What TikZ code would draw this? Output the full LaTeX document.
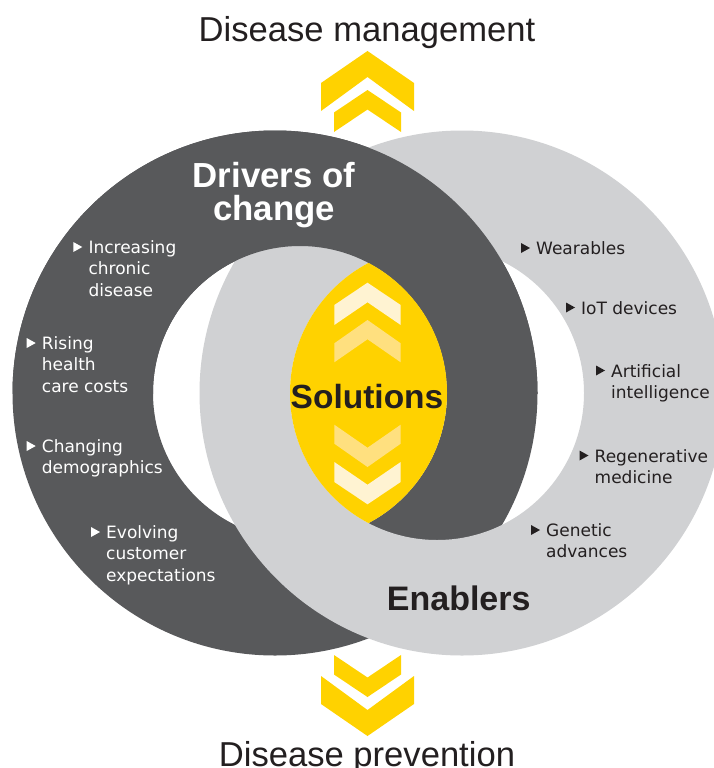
\documentclass[tikz,border=0pt]{standalone}
\usepackage{fontspec}
\setmainfont{Liberation Sans}
\newfontfamily\labelfont{DejaVu Sans}

\definecolor{ringdark}{HTML}{58595B}
\definecolor{ringlight}{HTML}{D0D1D3}
\definecolor{eyyellow}{HTML}{FFD200}
\definecolor{chevpale}{HTML}{FFF3D2}
\definecolor{chevmid}{HTML}{FFE07F}
\definecolor{inkdark}{HTML}{231F20}

% stacked lines whose baseline is the first line
\newcommand\itemlines[1]{\begin{tabular}[t]{@{}l@{}}#1\end{tabular}}
% small pointer triangle in front of a list label
\newcommand\markitem[2]{\fill[#1] ([shift={(-15,-1.5)}]#2.base west) -- ++(0,-10) -- ++(9,5) -- cycle;}

\begin{document}
\begin{tikzpicture}[x=1pt,y=-1pt,
  lbl/.style={inner sep=0pt, anchor=base west, font=\labelfont\fontsize{17}{21.3}\selectfont},
  lblwhite/.style={lbl, text=white},
  lbldark/.style={lbl, text=inkdark},
  heading/.style={inner sep=0pt, anchor=base, font=\bfseries\fontsize{34}{29}\selectfont},
  axislabel/.style={inner sep=0pt, anchor=base, text=inkdark, font=\fontsize{34.6}{40}\selectfont}]

\useasboundingbox (0,0) rectangle (714,768);
\fill[white] (0,0) rectangle (714,768);

% outer chevrons
\fill[eyyellow] (367.5,51) -- (414,83) -- (414,111) -- (367.5,77) -- (321,111) -- (321,83) -- cycle;
\fill[eyyellow] (367.5,90) -- (401,112.5) -- (401,132) -- (367.5,109.5) -- (334,132) -- (334,112.5) -- cycle;
\fill[eyyellow] (367.5,736) -- (414,704) -- (414,676) -- (367.5,710) -- (321,676) -- (321,704) -- cycle;
\fill[eyyellow] (367.5,697) -- (401,674.5) -- (401,655) -- (367.5,677.5) -- (334,655) -- (334,674.5) -- cycle;

% interlocking rings
\fill[ringdark, even odd rule] (275,393) circle[radius=262.5pt] (300,393) circle[radius=147pt];
\fill[ringlight, even odd rule] (462,393) circle[radius=262.5pt] (437,393) circle[radius=147pt];
\begin{scope}
  \clip (0,0) rectangle (714,393);
  \fill[ringdark, even odd rule] (275,393) circle[radius=262.5pt] (300,393) circle[radius=147pt];
\end{scope}

% central lens where both openings meet
\begin{scope}
  \clip (300,393) circle[radius=147pt];
  \fill[eyyellow] (437,393) circle[radius=147pt];
\end{scope}

% chevrons inside the lens
\fill[chevpale] (367.5,282.7) -- (400.7,305) -- (400.7,325) -- (367.5,302.3) -- (334.3,325) -- (334.3,305) -- cycle;
\fill[chevmid] (367.5,320) -- (400.7,343.3) -- (400.7,362.3) -- (367.5,339.3) -- (334.3,362.3) -- (334.3,343.3) -- cycle;
\fill[chevmid] (367.5,467) -- (400.7,443.7) -- (400.7,424.7) -- (367.5,447.7) -- (334.3,424.7) -- (334.3,443.7) -- cycle;
\fill[chevpale] (367.5,504.3) -- (400.7,482) -- (400.7,462) -- (367.5,484.7) -- (334.3,462) -- (334.3,482) -- cycle;

% titles
\node[axislabel] (mgmt) at (367,41.5) {Disease management};
\node[axislabel] (prev) at (367,766) {Disease prevention};
\node[heading, text=white, font=\bfseries\fontsize{34.8}{29}\selectfont] (drivers) at (274,187)
  {\begin{tabular}[t]{@{}c@{}}Drivers of\\change\end{tabular}};
\node[heading, text=inkdark, font=\bfseries\fontsize{33.5}{29}\selectfont] (solutions) at (367,408) {Solutions};
\node[heading, text=inkdark] (enablers) at (458.7,610) {Enablers};

% drivers of change
\node[lblwhite] (inc) at (88.3,253.5) {\itemlines{Increasing\\chronic\\disease}};
\node[lblwhite] (rise) at (41.7,349.5) {\itemlines{Rising\\health\\care costs}};
\node[lblwhite] (chg) at (41.7,452.5) {\itemlines{Changing\\demographics}};
\node[lblwhite] (evo) at (106,538.5) {\itemlines{Evolving\\customer\\expectations}};
\markitem{white}{inc}
\markitem{white}{rise}
\markitem{white}{chg}
\markitem{white}{evo}

% enablers
\node[lbldark] (wear) at (536,254.5) {Wearables};
\node[lbldark] (iot) at (581,314) {IoT devices};
\node[lbldark] (art) at (611,377) {\itemlines{Artificial\\intelligence}};
\node[lbldark] (reg) at (594.5,462) {\itemlines{Regenerative\\medicine}};
\node[lbldark] (gen) at (546,536.5) {\itemlines{Genetic\\advances}};
\markitem{inkdark}{wear}
\markitem{inkdark}{iot}
\markitem{inkdark}{art}
\markitem{inkdark}{reg}
\markitem{inkdark}{gen}

\end{tikzpicture}
\end{document}
